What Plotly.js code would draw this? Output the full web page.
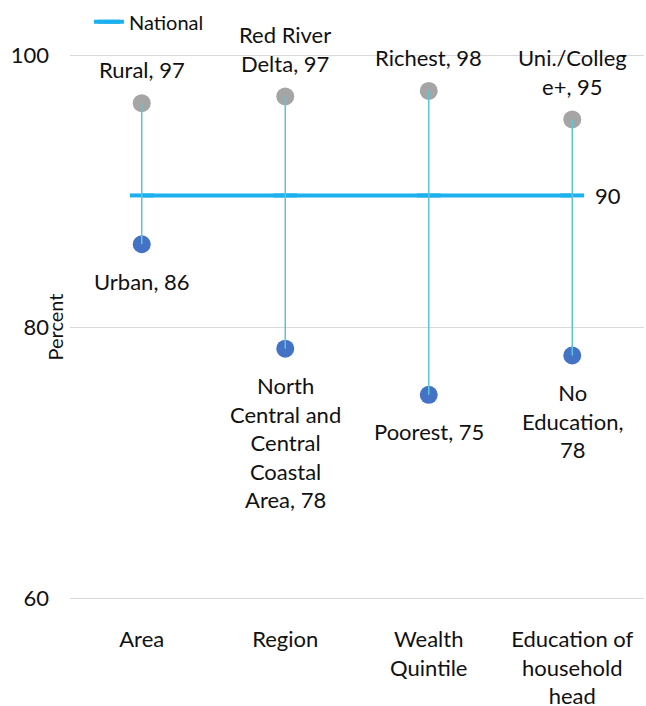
<!DOCTYPE html>
<html>
<head>
<meta charset="utf-8">
<script src="https://cdn.plot.ly/plotly-3.0.1.min.js"></script>
<style>html,body{margin:0;padding:0;background:#fff;}</style>
</head>
<body>
<div id="chart" style="width:646px;height:706px;"></div>
<script>
// ---- Data ----
const categories = ["Area", "Region", "Wealth<br>Quintile", "Education of<br>household<br>head"];
const highValues = [96.5, 97.0, 97.4, 95.3];
const highLabels = ["Rural, 97", "Red River<br>Delta, 97", "Richest, 98", "Uni./Colleg<br>e+, 95"];
const lowValues = [86.1, 78.4, 75.0, 77.9];
const lowLabels = ["Urban, 86", "North<br>Central and<br>Central<br>Coastal<br>Area, 78", "Poorest, 75", "No<br>Education,<br>78"];
const nationalValue = 89.7;
const nationalLabel = "90";
const yTicks = [60, 80, 100];

// ---- Build ----
const FONT = "Lato, 'Open Sans', sans-serif";
const TXT = "#111111";
const LINE_H = 28.6;

const vx = [], vy = [];
categories.forEach((c, i) => { vx.push(c, c, null); vy.push(highValues[i], lowValues[i], null); });

const traces = [
  {
    type: "scatter", mode: "markers", x: categories, y: highValues, showlegend: false,
    marker: { size: 18, color: "#A5A5A5" }, hoverinfo: "skip"
  },
  {
    type: "scatter", mode: "markers", x: categories, y: lowValues, showlegend: false,
    marker: { size: 18, color: "#4472C4" }, hoverinfo: "skip"
  },
  {
    type: "scatter", mode: "lines+markers", name: "National",
    x: categories, y: categories.map(() => nationalValue),
    line: { color: "#1CB0EE", width: 4 },
    marker: { symbol: "line-ew", size: 17, line: { color: "#1CB0EE", width: 4 }, color: "#1CB0EE" },
    hoverinfo: "skip"
  },
  {
    type: "scatter", mode: "lines", x: vx, y: vy, showlegend: false,
    line: { color: "#5CC6D8", width: 1.5 }, hoverinfo: "skip", connectgaps: false
  }
];

const annotations = [];
categories.forEach((c, i) => {
  const nh = highLabels[i].split("<br>").length;
  annotations.push({
    x: c, y: highValues[i], xref: "x", yref: "y", text: highLabels[i], showarrow: false,
    yanchor: "middle", xanchor: "center", yshift: 33.5 + (nh - 1) * LINE_H / 2,
    font: { family: FONT, size: 22, color: TXT }
  });
  const nl = lowLabels[i].split("<br>").length;
  annotations.push({
    x: c, y: lowValues[i], xref: "x", yref: "y", text: lowLabels[i], showarrow: false,
    yanchor: "middle", xanchor: "center", yshift: -(37 + (nl - 1) * LINE_H / 2),
    font: { family: FONT, size: 22, color: TXT }
  });
});
annotations.push({
  x: categories[categories.length - 1], y: nationalValue, xref: "x", yref: "y",
  text: nationalLabel, showarrow: false, xanchor: "left", yanchor: "middle", xshift: 21,
  font: { family: FONT, size: 22, color: TXT }
});
annotations.push({
  xref: "paper", yref: "paper", x: -0.027, y: 0.5, text: "Percent", textangle: -90,
  showarrow: false, xanchor: "center", yanchor: "middle",
  font: { family: FONT, size: 20, color: TXT }
});

const layout = {
  width: 646, height: 706, autosize: false,
  margin: { l: 70, r: 2, t: 51, b: 105 },
  paper_bgcolor: "#ffffff", plot_bgcolor: "#ffffff",
  font: { family: FONT, size: 22, color: TXT },
  showlegend: true,
  legend: {
    orientation: "h", x: 0.033, xanchor: "left", y: 1.0925, yanchor: "top",
    font: { family: FONT, size: 20, color: TXT }, bgcolor: "rgba(0,0,0,0)"
  },
  xaxis: {
    type: "category", range: [-0.5, categories.length - 0.5],
    showgrid: false, zeroline: false, showline: false, ticks: "",
    ticklabelstandoff: 23, tickfont: { family: FONT, size: 22, color: TXT }
  },
  yaxis: {
    range: [59.8, 100.2], tickvals: yTicks, ticktext: yTicks.map(String),
    showgrid: true, gridcolor: "#D9D9D9", gridwidth: 1, zeroline: false, showline: false,
    ticks: "", ticklabelstandoff: 20, tickfont: { family: FONT, size: 22, color: TXT }
  },
  annotations: annotations
};

Plotly.newPlot("chart", traces, layout, { displayModeBar: false, staticPlot: true });
</script>
</body>
</html>
